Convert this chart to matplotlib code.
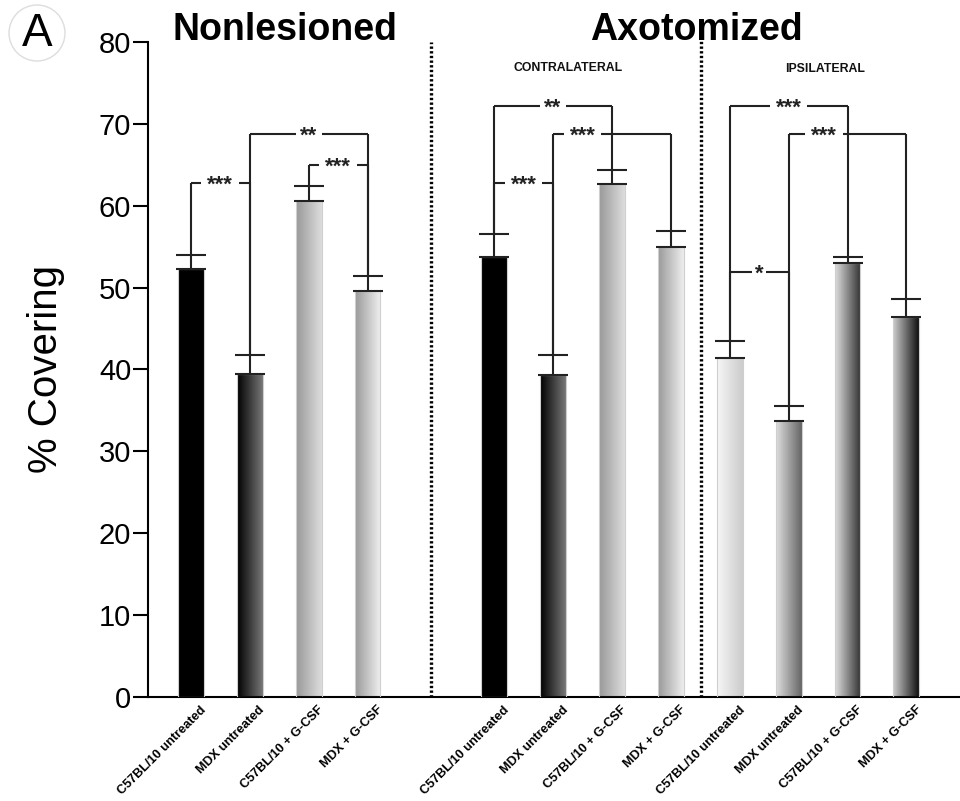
import numpy as np
import matplotlib
matplotlib.use("Agg")
import matplotlib.pyplot as plt
from matplotlib.colors import LinearSegmentedColormap
from matplotlib.patches import Ellipse
import matplotlib.transforms as mtransforms

plt.rcParams['font.family'] = ['Liberation Sans', 'DejaVu Sans']

# ---------------- data ----------------
labels = ["C57BL/10 untreated", "MDX untreated", "C57BL/10 + G-CSF", "MDX + G-CSF"] * 3
positions = [0, 1, 2, 3, 5.15, 6.15, 7.15, 8.15, 9.15, 10.15, 11.15, 12.15]
means = [52.3, 39.4, 60.6, 49.6, 53.7, 39.3, 62.6, 55.0, 41.4, 33.7, 53.0, 46.4]
errors = [1.7, 2.4, 1.8, 1.8, 2.8, 2.5, 1.7, 1.9, 2.1, 1.8, 0.7, 2.2]
# left -> right colour of each bar's gradient
grad_left = ["#000000", "#000000", "#999999", "#9a9a9a",
             "#000000", "#000000", "#999999", "#9a9a9a",
             "#f6f6f6", "#dddddd", "#dddddd", "#cccccc"]
grad_right = ["#000000", "#777777", "#dddddd", "#f0f0f0",
              "#000000", "#777777", "#dddddd", "#eeeeee",
              "#cccccc", "#666666", "#333333", "#111111"]

# significance brackets: (bar i, bar j, height, stars, text position fraction)
brackets = [
    (0, 1, 62.8, "***", 0.5),
    (1, 3, 68.7, "**", 0.5),
    (2, 3, 65.0, "***", 0.5),
    (4, 6, 72.2, "**", 0.5),
    (5, 7, 68.7, "***", 0.25),
    (4, 5, 62.8, "***", 0.5),
    (8, 10, 72.2, "***", 0.5),
    (9, 11, 68.7, "***", 0.3),
    (8, 9, 51.9, "*", 0.5),
]
dividers = [4.08, 8.66]

# ---------------- figure ----------------
fig = plt.figure(figsize=(9.6, 8.01), dpi=100)
ax = fig.add_axes([0.154, 0.130, 0.846, 0.8177])

width = 0.44
rects = ax.bar(positions, means, width=width, color="none",
               edgecolor="#cfcfcf", linewidth=0.8, zorder=3)
for r, c0, c1 in zip(rects, grad_left, grad_right):
    cmap = LinearSegmentedColormap.from_list("g", [c0, c1])
    grad = np.linspace(0, 1, 64).reshape(1, -1)
    ax.imshow(grad, cmap=cmap, aspect="auto", zorder=2,
              extent=[r.get_x(), r.get_x() + r.get_width(), 0, r.get_height()])

ax.errorbar(positions, means, yerr=[np.zeros(len(means)), errors], fmt="none",
            ecolor="#222222", elinewidth=1.5, capsize=11, capthick=1.5, zorder=4)

tops = [m + e for m, e in zip(means, errors)]
for i, j, h, stars, frac in brackets:
    xi, xj = positions[i], positions[j]
    xt = xi + frac * (xj - xi)
    gap = 0.1 * len(stars) + 0.02
    kw = dict(color="#222222", lw=1.5, zorder=4, solid_capstyle="butt")
    ax.plot([xi, xi], [tops[i], h], **kw)
    ax.plot([xj, xj], [tops[j], h], **kw)
    ax.plot([xi, xt - gap], [h, h], **kw)
    ax.plot([xt + gap, xj], [h, h], **kw)
    off = mtransforms.ScaledTranslation(0, -5.5 / 72, fig.dpi_scale_trans)
    ax.text(xt, h, stars, ha="center", va="baseline", fontsize=16,
            fontweight="bold", color="#222222", transform=ax.transData + off)

for d, top in zip(dividers, [1.0, 1.006]):
    ax.axvline(d, ymin=0, ymax=top, color="black", lw=2.4,
               linestyle=(0, (0.7, 0.7)), clip_on=False, zorder=1)

ax.set_xlim(-0.73, 13.06)
ax.set_ylim(0, 80)
ax.set_yticks(np.arange(0, 81, 10))
ax.tick_params(axis="y", labelsize=21, length=11, width=1.5, pad=1)
ax.set_xticks(positions)
ax.set_xticklabels(labels, rotation=45, ha="right", va="top",
                   rotation_mode="anchor", fontsize=9.2, fontweight="bold")
ax.tick_params(axis="x", length=0, pad=5)
shift = mtransforms.ScaledTranslation(9 / 100, 0, fig.dpi_scale_trans)
for lab in ax.get_xticklabels():
    lab.set_transform(lab.get_transform() + shift)

for s in ["top", "right"]:
    ax.spines[s].set_visible(False)
ax.spines["left"].set_linewidth(1.5)
ax.spines["bottom"].set_linewidth(1.5)

ax.set_ylabel("% Covering", fontsize=29, labelpad=24)

ax.text(1.6, 81.4, "Nonlesioned", ha="center", va="center", fontsize=27,
        fontweight="bold", clip_on=False)
ax.text(8.58, 81.4, "Axotomized", ha="center", va="center", fontsize=27,
        fontweight="bold", clip_on=False)
ax.text(6.4, 76.8, "CONTRALATERAL", ha="center", va="center", fontsize=8.8,
        fontweight="bold", color="#111111")
ax.text(10.77, 76.7, "IPSILATERAL", ha="center", va="center", fontsize=8.8,
        fontweight="bold", color="#111111")

fig.patches.append(Ellipse((37 / 960, 1 - 33 / 801), 56 / 960, 56 / 801,
                           transform=fig.transFigure, facecolor="white",
                           edgecolor="#dddddd", lw=1))
fig.text(37 / 960, 1 - 34 / 801, "A", ha="center", va="center", fontsize=33)

fig.savefig("out.png", dpi=100)
